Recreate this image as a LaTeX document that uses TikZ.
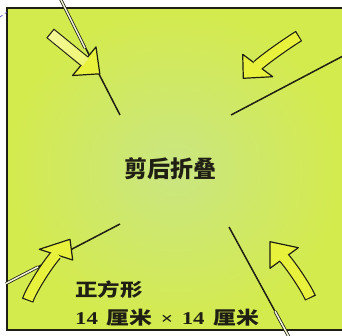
\documentclass[tikz,border=0pt]{standalone}
\usepackage{fontspec}
\usepackage{graphicx}
\newfontfamily\cjk{Noto Sans CJK SC}
\newfontfamily\digf{Liberation Serif}
\usetikzlibrary{calc}
\definecolor{bgout}{HTML}{D4EB4E}
\definecolor{bgin}{HTML}{CAE682}
\definecolor{arrowy}{HTML}{E8F23C}
\definecolor{ink}{HTML}{1F1F14}
\definecolor{paleline}{HTML}{F4F6D8}
\tikzset{
  border/.style={draw=ink, line width=1.2pt},
  cutline/.style={draw=ink, line width=1.5pt},
  cutdouble/.style={draw=ink, line width=0.8pt, double=paleline, double distance=1.5pt},
  arrowout/.style={draw=ink, line width=12pt},
  arrowin/.style={draw=arrowy, line width=9.6pt},
  arrowhd/.style={fill=arrowy, draw=ink, line width=1.2pt, line join=round},
  label/.style={inner sep=0pt, text=ink},
}
\begin{document}
\begin{tikzpicture}[x=1pt,y=-1pt]
\useasboundingbox (0,0) rectangle (342,335);
\fill[white] (0,0) rectangle (342,335);
% paper square
\shade[inner color=bgin, outer color=bgout] (7,8) rectangle (342,330);
\draw[border] (342,8) -- (7,8) -- (7,330) -- (342,330);
\draw[blue!45!gray, line width=0.6pt, dashed] (0,17) -- (7,12);

% cut lines
\coordinate (tlA) at (60.5,-1);  \coordinate (tlB) at (120,115); \coordinate (tlD) at (85,48);
\coordinate (trA) at (343,56);   \coordinate (trB) at (231,115);
\coordinate (blA) at (6,283.5);  \coordinate (blB) at (120,224); \coordinate (blD) at (38,266.9);
\coordinate (brA) at (229,227);  \coordinate (brB) at (289,337); \coordinate (brD) at (275,311.3);
\draw[cutline] (tlA) -- (tlB);
\draw[cutdouble] (tlA) -- (tlD);
\draw[cutline] (trA) -- (trB);
\draw[cutline] (blA) -- (blB);
\draw[cutdouble] (blA) -- (blD);
\draw[cutline] (brA) -- (brB);
\draw[cutdouble] (brD) -- (brB);

% top-left arrow (straight)
\draw[arrowout] (50.1,33.2) -- (84.3,61.2);
\draw[arrowhd] (96,46.9) -- (99.8,73.8) -- (72.6,75.5) -- cycle;
\shade[top color=arrowy!55!white, middle color=arrowy!12!white, bottom color=arrowy!70!white, shading angle=51]
  (54.1,30.2) -- (88.6,58.3) -- (82.4,65.9) -- (47.9,37.8) -- cycle;

% top-right arrow
\draw[arrowout] (299,35.9) -- (298,36.5) .. controls (287.8,42.9) and (266.7,57.5) .. (257.7,65.5);
\draw[arrowhd] (242.7,54.3) -- (243.3,78.3) -- (272.7,76.7) -- cycle;
\draw[arrowin] (298,36.5) .. controls (287.8,42.9) and (266.7,57.5) .. (257.7,65.5) -- (256.6,66.5);

% bottom-left arrow
\draw[arrowout] (27.6,300.6) -- (28,299.5) .. controls (31.6,289.2) and (47.9,263.6) .. (56,254.7);
\draw[arrowhd] (70,239.3) -- (39.3,249.3) -- (72.7,260) -- cycle;
\draw[arrowin] (28,299.5) .. controls (31.6,289.2) and (47.9,263.6) .. (56,254.7) -- (57,253.6);

% bottom-right arrow
\draw[arrowout] (310.5,298.1) -- (310,297) .. controls (305.4,287) and (292.1,267.1) .. (284.2,258);
\draw[arrowhd] (270,241.7) -- (298.3,247.7) -- (270,268.3) -- cycle;
\draw[arrowin] (310,297) .. controls (305.4,287) and (292.1,267.1) .. (284.2,258) -- (283.2,256.9);

% texts
\node[label, font=\cjk\bfseries\fontsize{23}{23}\selectfont] (title) at (170.5,168.5) {剪后折叠};
\node[label, anchor=west] (shape) at (75,290)
  {\scalebox{1.25}[1]{\cjk\bfseries\fontsize{18}{18}\selectfont 正方形}};
\node[label, anchor=west] (size) at (75,317.5)
  {\scalebox{1.27}[1]{\fontsize{18}{18}\selectfont\bfseries{\digf 14} {\cjk 厘米} {\digf\fontsize{17}{17}\selectfont ×} {\digf 14} {\cjk 厘米}}};
\end{tikzpicture}
\end{document}
